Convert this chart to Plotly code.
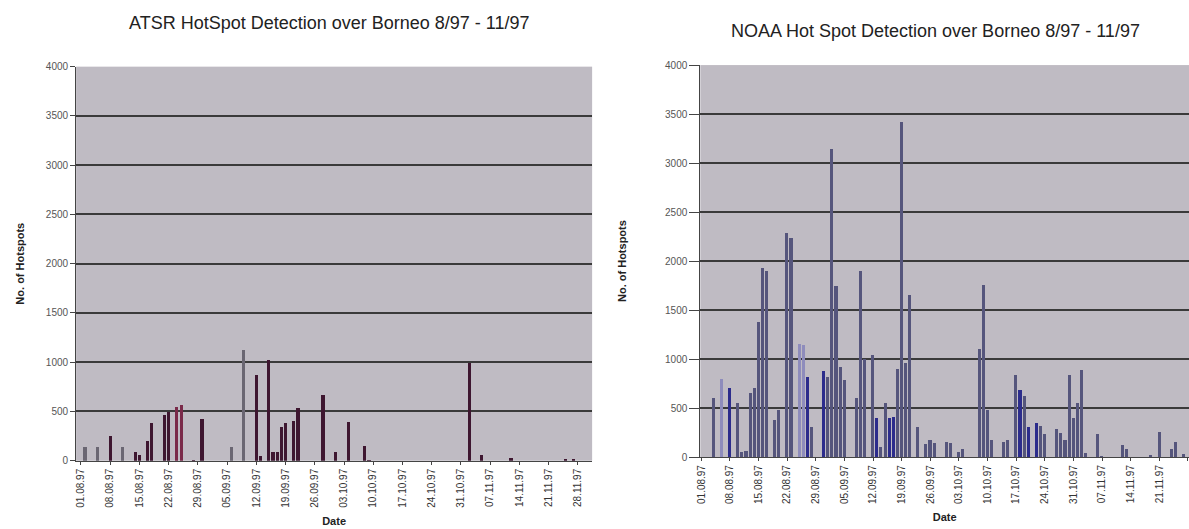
import plotly.graph_objects as go
from plotly.subplots import make_subplots
import pandas as pd

# ---------------- DATA ----------------
# ATSR (left chart) daily hotspot counts, grouped by bar colour
atsr_gray_dates = ["1997-08-02", "1997-08-05", "1997-08-11", "1997-09-06", "1997-09-09"]
atsr_gray_counts = [145, 140, 145, 145, 1130]

atsr_dark_dates = ["1997-08-08", "1997-08-14", "1997-08-15", "1997-08-17", "1997-08-18",
                   "1997-08-21", "1997-08-22", "1997-08-28", "1997-08-30", "1997-09-12",
                   "1997-09-13", "1997-09-15", "1997-09-16", "1997-09-17", "1997-09-18",
                   "1997-09-19", "1997-09-21", "1997-09-22", "1997-09-28", "1997-10-01",
                   "1997-10-04", "1997-10-08", "1997-10-09", "1997-11-02", "1997-11-05",
                   "1997-11-12", "1997-11-25", "1997-11-27"]
atsr_dark_counts = [250, 90, 60, 200, 390,
                    470, 500, 15, 430, 870,
                    50, 1030, 90, 90, 350,
                    390, 410, 540, 670, 90,
                    400, 150, 10, 1000, 60,
                    30, 20, 20]

atsr_red_dates = ["1997-08-24", "1997-08-25"]
atsr_red_counts = [550, 570]

# NOAA (right chart) daily hotspot counts, grouped by bar colour
noaa_slate_dates = ["1997-08-04", "1997-08-10", "1997-08-11", "1997-08-12", "1997-08-13",
                    "1997-08-14", "1997-08-15", "1997-08-16", "1997-08-17", "1997-08-19",
                    "1997-08-20", "1997-08-22", "1997-08-23", "1997-08-28", "1997-09-01",
                    "1997-09-02", "1997-09-03", "1997-09-04", "1997-09-05", "1997-09-08",
                    "1997-09-09", "1997-09-10", "1997-09-12", "1997-09-14", "1997-09-15",
                    "1997-09-18", "1997-09-19", "1997-09-20", "1997-09-21", "1997-09-23",
                    "1997-09-25", "1997-09-26", "1997-09-27", "1997-09-30", "1997-10-01",
                    "1997-10-03", "1997-10-04", "1997-10-08", "1997-10-09", "1997-10-10",
                    "1997-10-11", "1997-10-14", "1997-10-15", "1997-10-17", "1997-10-19",
                    "1997-10-23", "1997-10-24", "1997-10-27", "1997-10-28", "1997-10-29",
                    "1997-10-30", "1997-10-31", "1997-11-01", "1997-11-02", "1997-11-03",
                    "1997-11-06", "1997-11-07", "1997-11-12", "1997-11-13", "1997-11-19",
                    "1997-11-21", "1997-11-24", "1997-11-25", "1997-11-27"]
noaa_slate_counts = [600, 550, 50, 60, 650,
                     700, 1380, 1930, 1900, 380,
                     480, 2290, 2230, 310, 820,
                     3140, 1740, 920, 790, 600,
                     1900, 1000, 1040, 100, 550,
                     900, 3420, 960, 1650, 310,
                     130, 170, 140, 150, 140,
                     50, 80, 1100, 1750, 480,
                     170, 150, 170, 840, 620,
                     320, 230, 290, 240, 170,
                     840, 400, 550, 890, 40,
                     230, 10, 120, 80, 15,
                     260, 80, 150, 30]

noaa_blue_dates = ["1997-08-08", "1997-08-27", "1997-08-31", "1997-09-13", "1997-09-16",
                   "1997-09-17", "1997-10-18", "1997-10-20", "1997-10-22"]
noaa_blue_counts = [700, 820, 880, 400, 400, 410, 680, 310, 350]

noaa_light_dates = ["1997-08-06", "1997-08-25", "1997-08-26"]
noaa_light_counts = [800, 1150, 1140]

y_ticks = [0, 500, 1000, 1500, 2000, 2500, 3000, 3500, 4000]

left_title = "ATSR HotSpot Detection over Borneo 8/97 - 11/97"
right_title = "NOAA Hot Spot Detection over Borneo 8/97 - 11/97"
y_title = "No. of Hotspots"
x_title = "Date"

# ---------------- FIGURE ----------------
DAY_MS = 86400000
fig = make_subplots(rows=1, cols=2)

def add_bars(dates, counts, color, col):
    fig.add_trace(go.Bar(
        x=pd.to_datetime(dates), y=counts,
        marker=dict(color=color, line=dict(width=0)),
        width=0.75 * DAY_MS, showlegend=False,
    ), row=1, col=col)

add_bars(atsr_gray_dates, atsr_gray_counts, "#6a6672", 1)
add_bars(atsr_dark_dates, atsr_dark_counts, "#3e1630", 1)
add_bars(atsr_red_dates, atsr_red_counts, "#7a2a4a", 1)

add_bars(noaa_slate_dates, noaa_slate_counts, "#55557c", 2)
add_bars(noaa_blue_dates, noaa_blue_counts, "#2c2c8c", 2)
add_bars(noaa_light_dates, noaa_light_counts, "#8e8cbc", 2)

plot_bg = "#bfbbc3"
grid = "#3a3a3a"
title_font = dict(family="Arial", size=11, color="#222222")

common_x = dict(
    type="date", tickformat="%d.%m.%y", dtick=7 * DAY_MS, tick0="1997-08-01",
    tickangle=-90, tickfont=dict(family="Arial", size=10, color="#333333"),
    ticks="outside", ticklen=3, tickcolor="#444444", automargin=False,
    showline=True, linecolor="#444444", linewidth=1, showgrid=False,
    title=dict(text="<b>" + x_title + "</b>", font=title_font, standoff=10),
)
common_y = dict(
    range=[0, 4000], tickvals=y_ticks, tickfont=dict(family="Arial", size=10, color="#555555"),
    ticks="outside", ticklen=5, tickcolor="#444444", automargin=False,
    showline=True, linecolor="#444444", linewidth=1,
    showgrid=True, gridcolor=grid, gridwidth=1.8, zeroline=False,
)

fig.update_layout(
    width=1189, height=529,
    paper_bgcolor="white", plot_bgcolor=plot_bg,
    margin=dict(l=0, r=0, t=0, b=0, autoexpand=False),
    barmode="overlay", bargap=0,
    xaxis=dict(common_x, domain=[0.064, 0.498], range=["1997-07-30 20:00", "1997-12-01 10:00"]),
    xaxis2=dict(common_x, domain=[0.589, 1.0], range=["1997-07-31 18:00", "1997-11-28 06:00"]),
    yaxis=dict(common_y, domain=[0.129, 0.874],
               title=dict(text="<b>" + y_title + "</b>", standoff=18, font=title_font)),
    yaxis2=dict(common_y, domain=[0.136, 0.877], ticklen=10,
                title=dict(text="<b>" + y_title + "</b>", standoff=36, font=title_font)),
    annotations=[
        dict(text=left_title, x=0.2775, y=1 - 23 / 529, xref="paper", yref="paper",
             xanchor="center", yanchor="middle",
             showarrow=False, font=dict(family="Arial", size=18, color="#222222")),
        dict(text=right_title, x=0.787, y=1 - 31 / 529, xref="paper", yref="paper",
             xanchor="center", yanchor="middle",
             showarrow=False, font=dict(family="Arial", size=18, color="#222222")),
    ],
)

fig.write_html("out.html", config={"displayModeBar": False},
               post_script="document.body.style.margin='0px';")
